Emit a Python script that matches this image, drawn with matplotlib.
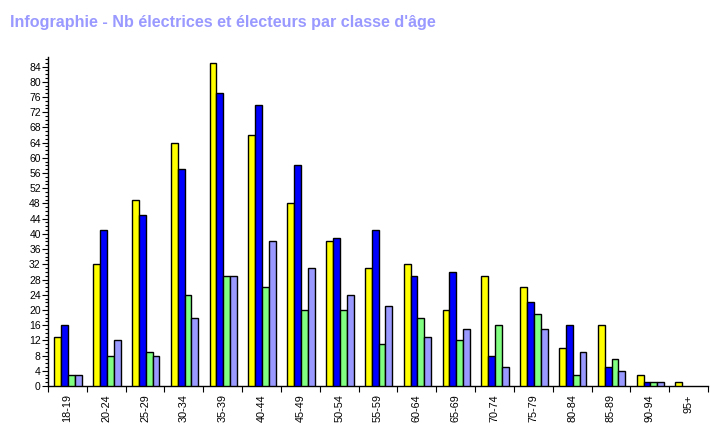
import matplotlib
matplotlib.use("Agg")
import matplotlib.pyplot as plt
from matplotlib.ticker import MultipleLocator, FixedLocator, NullFormatter
import numpy as np

categories = ["18-19", "20-24", "25-29", "30-34", "35-39", "40-44", "45-49", "50-54",
              "55-59", "60-64", "65-69", "70-74", "75-79", "80-84", "85-89", "90-94", "95+"]
serie_jaune = [13, 32, 49, 64, 85, 66, 48, 38, 31, 32, 20, 29, 26, 10, 16, 3, 1]
serie_bleue = [16, 41, 45, 57, 77, 74, 58, 39, 41, 29, 30, 8, 22, 16, 5, 1, 0]
serie_verte = [3, 8, 9, 24, 29, 26, 20, 20, 11, 18, 12, 16, 19, 3, 7, 1, 0]
serie_lavande = [3, 12, 8, 18, 29, 38, 31, 24, 21, 13, 15, 5, 15, 9, 4, 1, 0]

series = [serie_jaune, serie_bleue, serie_verte, serie_lavande]
colors = ["#ffff00", "#0000ff", "#80ff80", "#9999ff"]

plt.rcParams['font.family'] = ['Liberation Sans', 'DejaVu Sans']

fig = plt.figure(figsize=(7.28, 4.29), dpi=100)
ax = fig.add_axes([48/728, 1-386/429, (708-48)/728, (386-57)/429])

x = np.arange(len(categories))
w = 0.177
start = -0.338
for k, (vals, c) in enumerate(zip(series, colors)):
    v = np.array(vals, dtype=float)
    mask = v > 0
    ax.bar(x[mask] + start + k*w, v[mask], width=w, align='edge', color=c,
           edgecolor='black', linewidth=1.0, zorder=3)

ax.set_xlim(-0.5, len(categories)-0.5)
ax.set_ylim(0, 86.5)

for s in ['top', 'right']:
    ax.spines[s].set_visible(False)
for s in ['left', 'bottom']:
    ax.spines[s].set_linewidth(1.0)

ax.yaxis.set_major_locator(MultipleLocator(4))
ax.yaxis.set_minor_locator(MultipleLocator(1))
ax.tick_params(axis='y', which='major', length=4.2, width=0.8, labelsize=7.5, pad=1)
ax.tick_params(axis='y', which='minor', length=2.3, width=0.8)

ax.set_xticks(x)
ax.set_xticklabels(categories, rotation=90, fontsize=7.8)
ax.xaxis.set_minor_locator(FixedLocator(np.arange(len(categories)+1) - 0.5))
ax.xaxis.set_minor_formatter(NullFormatter())
ax.tick_params(axis='x', which='major', length=0, pad=6)
ax.tick_params(axis='x', which='minor', length=4, width=0.8)

fig.text(10/728, 1-23/429, "Infographie - Nb électrices et électeurs par classe d'âge",
         color="#9999ff", fontsize=11.6, fontweight='bold', ha='left', va='center')

fig.savefig("out.png", dpi=100)
